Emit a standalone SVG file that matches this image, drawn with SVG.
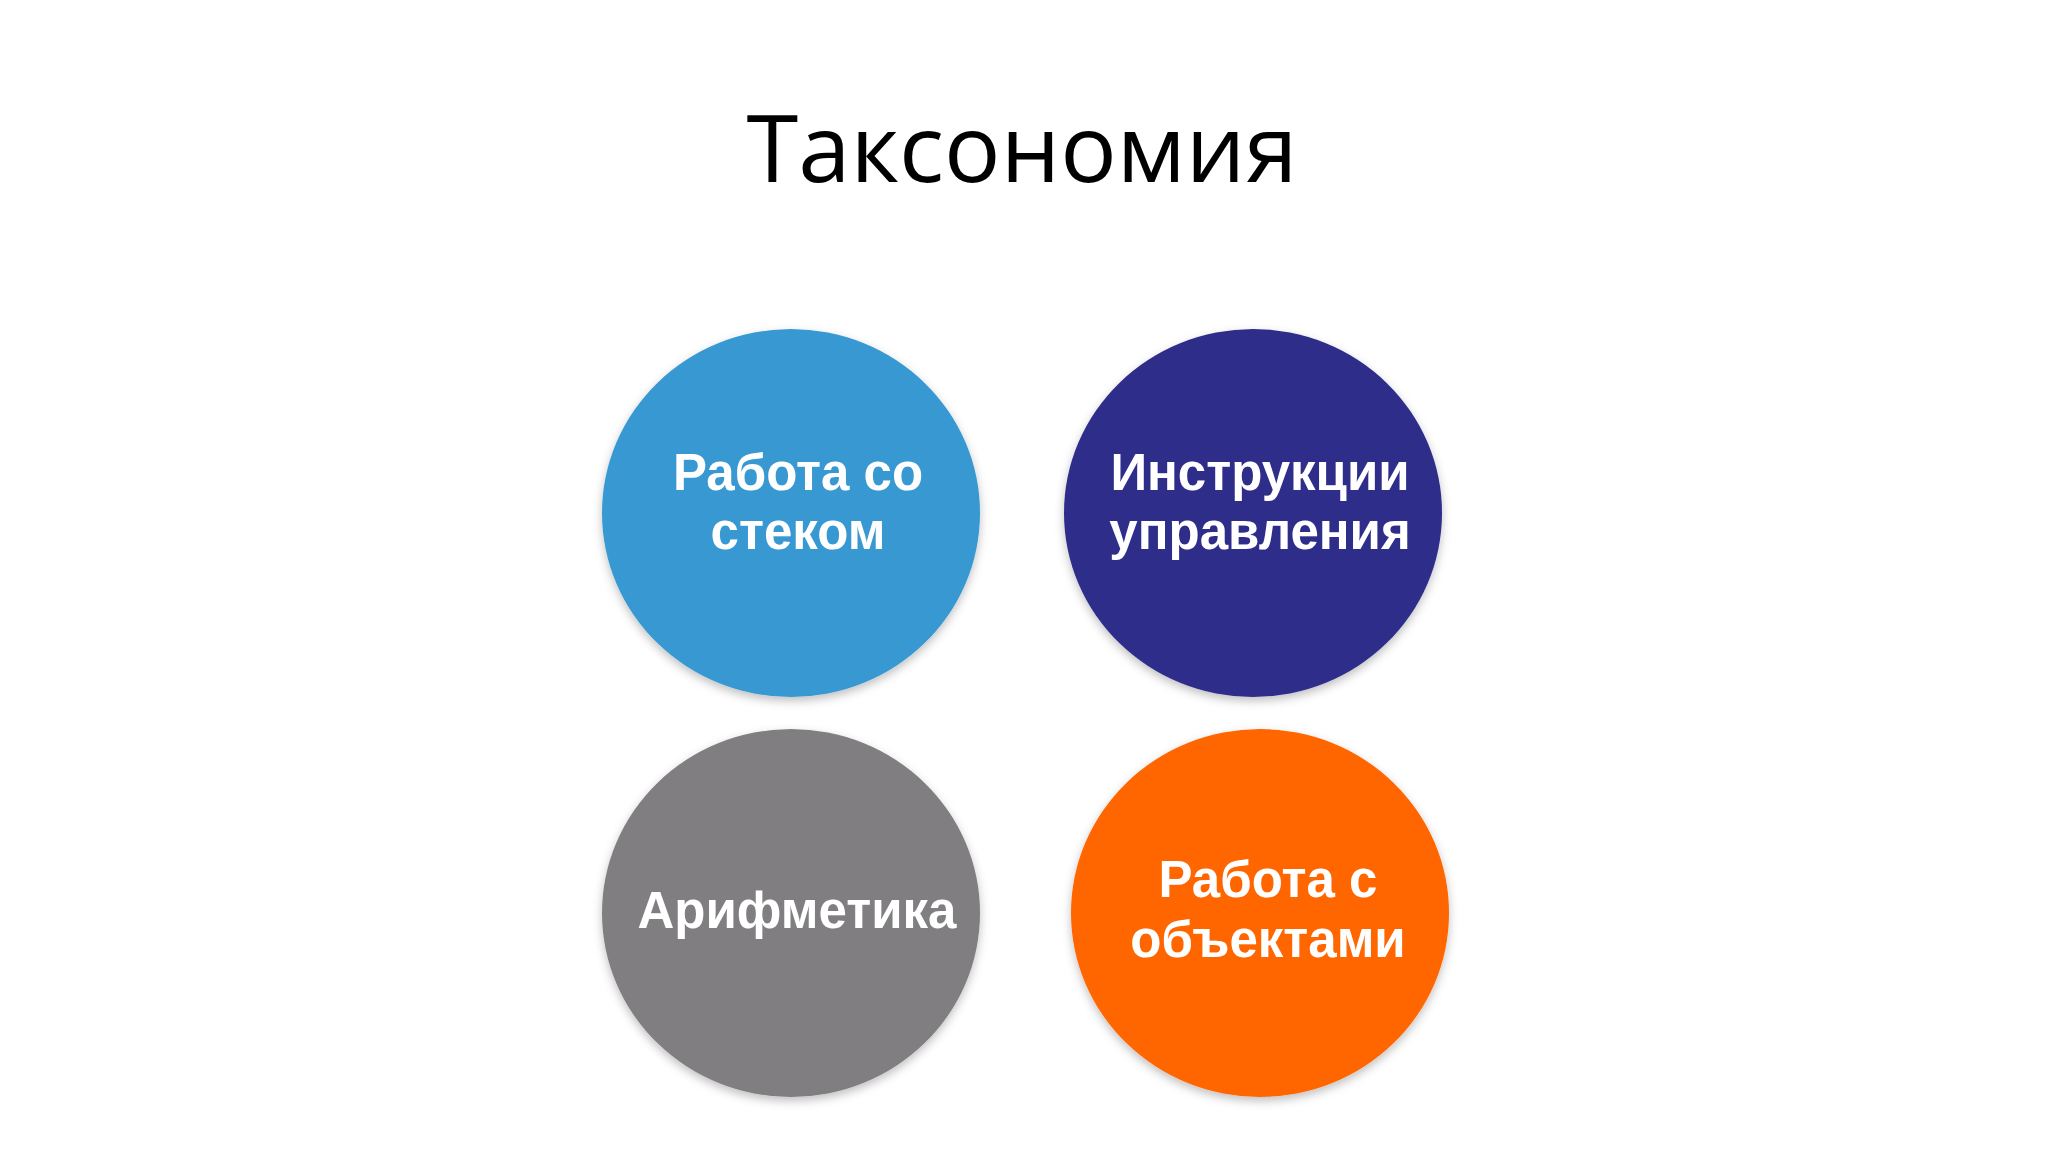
<svg xmlns="http://www.w3.org/2000/svg" width="2048" height="1152" viewBox="0 0 2048 1152">
<defs>
<filter id="sh" x="-20%" y="-20%" width="140%" height="140%">
<feDropShadow dx="0" dy="4" stdDeviation="5" flood-color="#000" flood-opacity="0.25"/>
</filter>
<style>
.title{font-family:"Open Sans","Noto Sans",sans-serif;font-size:94px;fill:#000;text-anchor:middle}
.lbl{font-family:"Liberation Sans",Arial,sans-serif;font-weight:bold;font-size:51px;fill:#fff;text-anchor:middle}
</style>
</defs>
<rect width="2048" height="1152" fill="#fff"/>
<text class="title" x="1022" y="182">Таксономия</text>
<g id="connectors"/>
<g id="node-stack">
<ellipse cx="791" cy="513" rx="189" ry="184" fill="#3898D2" filter="url(#sh)"/>
<text class="lbl" x="798" y="490">Работа со</text>
<text class="lbl" x="798" y="549">стеком</text>
</g>
<g id="node-control">
<ellipse cx="1253" cy="513" rx="189" ry="184" fill="#2E2D8A" filter="url(#sh)"/>
<text class="lbl" x="1260" y="490">Инструкции</text>
<text class="lbl" x="1260" y="549">управления</text>
</g>
<g id="node-arith">
<ellipse cx="791" cy="913" rx="189" ry="184" fill="#807E81" filter="url(#sh)"/>
<text class="lbl" x="797" y="928">Арифметика</text>
</g>
<g id="node-objects">
<ellipse cx="1260" cy="913" rx="189" ry="184" fill="#FF6600" filter="url(#sh)"/>
<text class="lbl" x="1268" y="897">Работа с</text>
<text class="lbl" x="1268" y="957">объектами</text>
</g>
</svg>
